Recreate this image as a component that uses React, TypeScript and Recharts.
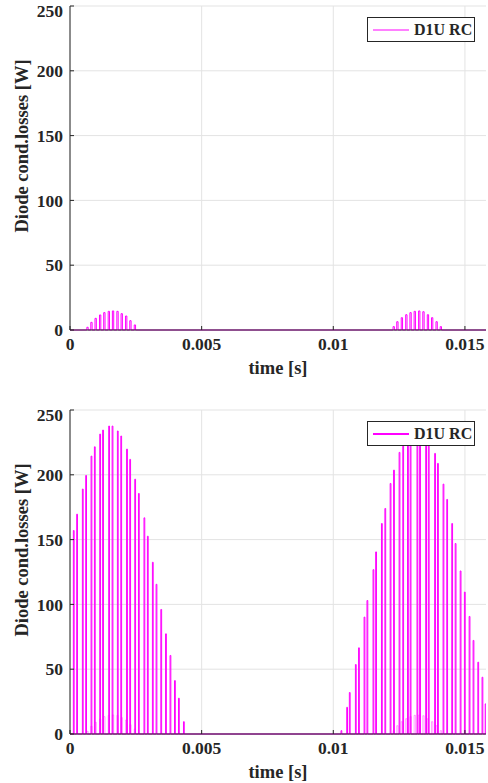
import { LineChart, Line, XAxis, YAxis, CartesianGrid, Legend, Label } from "recharts";

// top plot: conduction loss pulses (W) at PWM instants (s)
const smallTimes = [
  0.00064, 0.00079, 0.00095, 0.00112, 0.00128, 0.00145, 0.00161, 0.00178, 0.00194, 0.00211, 0.00227, 0.00244,
  0.01227, 0.01241, 0.01258, 0.01275, 0.01291, 0.01307, 0.01324, 0.0134, 0.01357, 0.01373, 0.0139, 0.01406,
];
const smallValues = [
  2.1, 5.9, 9.0, 11.6, 13.4, 14.4, 14.7, 14.4, 12.6, 10.8, 7.2, 3.9,
  2.6, 6.4, 9.5, 11.8, 13.4, 14.4, 14.7, 14.1, 11.8, 9.5, 6.4, 2.6,
];

// bottom plot
const bigTimes = [
  0.000127, 0.000254, 0.00047, 0.000597, 0.0008, 0.000927, 0.00113, 0.00124, 0.00147, 0.0016, 0.0018, 0.00193,
  0.00215, 0.00227, 0.00246, 0.0026, 0.00281, 0.00294, 0.00313, 0.00327, 0.00345, 0.00363, 0.0038, 0.00397,
  0.00412, 0.00431,
  0.010293, 0.01051, 0.01061, 0.01084, 0.01096, 0.01117, 0.01128, 0.01151, 0.01161, 0.01183, 0.01196, 0.01216,
  0.01229, 0.0125, 0.01264, 0.01282, 0.01292, 0.01318, 0.01328, 0.01351, 0.01361, 0.01385, 0.01396, 0.01417,
  0.01431, 0.0145, 0.01463, 0.01482, 0.01498, 0.01516, 0.01531, 0.01549, 0.01565, 0.01577,
];
const bigValues = [
  157, 169.6, 189, 199.5, 214.4, 221.6, 231.4, 234.5, 237.6, 237.6, 233.8, 229.9,
  219.8, 211.9, 196.6, 185.6, 166.8, 152.6, 132.5, 115.5, 96.1, 77.3, 60.6, 41.2,
  27.6, 9.5,
  2.6, 20.6, 32, 53.6, 66.5, 90.2, 103, 126.8, 140.5, 162.4, 174, 193.3,
  203.6, 217.3, 224, 231, 234, 237, 237, 233, 228, 216.5, 208.8, 192.8,
  181, 162.4, 147, 125.8, 109.5, 90.7, 72.2, 55.4, 43.8, 23.2,
];

const xTicks = [0, 0.005, 0.01, 0.015];
const yTicks = [0, 50, 100, 150, 200, 250];
const X_MAX = 0.0158;

const font = "'Liberation Serif', 'Times New Roman', serif";
const ink = "#262626";

// turn pulse list into a rectangular trace
const pulseTrace = (times: number[], values: number[], w: number) => {
  const pts: { t: number; p: number }[] = [{ t: 0, p: 0 }];
  times.forEach((t, i) => {
    pts.push({ t, p: 0 }, { t, p: values[i] }, { t: t + w, p: values[i] }, { t: t + w, p: 0 });
  });
  pts.push({ t: X_MAX, p: 0 });
  return pts;
};

const smallData = pulseTrace(smallTimes, smallValues, 0.00005);
const bigData = pulseTrace(bigTimes, bigValues, 0.00003);

const fmtX = (v: number) => (v === 0 ? "0" : String(v));

const LegendBox = ({ lineColor }: { lineColor: string }) => (
  <div
    style={{
      width: 108,
      height: 25,
      border: "1px solid " + ink,
      background: "white",
      display: "flex",
      alignItems: "center",
      boxSizing: "border-box",
      fontFamily: font,
      fontWeight: "bold",
      fontSize: 16,
      color: ink,
    }}
  >
    <div style={{ width: 36, height: 2, background: lineColor, marginLeft: 5, marginRight: 5 }} />
    <span>D1U RC</span>
  </div>
);

const YLabel = (props: any) => {
  const vb = props.viewBox || {};
  const cy = vb.y + vb.height / 2 - 22;
  return (
    <text
      x={22}
      y={cy}
      transform={`rotate(-90 22 ${cy})`}
      textAnchor="middle"
      dominantBaseline="central"
      fontFamily={font}
      fontWeight="bold"
      fontSize={18.5}
      fill={ink}
    >
      Diode cond.losses [W]
    </text>
  );
};

const tickStyle = { fontFamily: font, fontWeight: "bold" as const, fontSize: 17.5, fill: ink };

const Panel = ({ data, faint, legendLine }: { data: any[]; faint?: any[]; legendLine: string }) => (
  <LineChart width={488} height={379} margin={{ top: 6, right: 2, left: 0, bottom: 0 }}>
    <CartesianGrid stroke="#e3e3e3" horizontalValues={yTicks} verticalValues={xTicks} />
    <XAxis
      dataKey="t"
      type="number"
      domain={[0, X_MAX]}
      allowDataOverflow
      ticks={xTicks}
      tickFormatter={fmtX}
      tickSize={-4}
      tickMargin={12}
      height={49}
      stroke={ink}
      tick={tickStyle}
    >
      <Label
        value="time [s]"
        position="insideBottom"
        offset={5}
        style={{ fontFamily: font, fontWeight: "bold", fontSize: 18.5, fill: ink }}
      />
    </XAxis>
    <XAxis
      xAxisId="top"
      orientation="top"
      dataKey="t"
      type="number"
      domain={[0, X_MAX]}
      allowDataOverflow
      ticks={xTicks}
      tickFormatter={() => ""}
      tickSize={-4}
      height={0}
      stroke={ink}
    />
    <YAxis
      type="number"
      domain={[0, 250]}
      ticks={yTicks}
      tickSize={-4}
      tickMargin={11}
      width={70}
      stroke={ink}
      tick={tickStyle}
      label={<YLabel />}
    />
    <YAxis
      yAxisId="right"
      orientation="right"
      type="number"
      domain={[0, 250]}
      ticks={yTicks}
      tickFormatter={() => ""}
      tickSize={-4}
      width={0}
      stroke={ink}
    />
    {faint && (
      <Line
        data={faint}
        dataKey="p"
        type="linear"
        stroke="#ff00ff"
        strokeOpacity={0.35}
        strokeWidth={1}
        dot={false}
        isAnimationActive={false}
        legendType="none"
      />
    )}
    <Line
      data={data}
      dataKey="p"
      name="D1U RC"
      type="linear"
      stroke="#ff00ff"
      strokeWidth={1}
      dot={false}
      isAnimationActive={false}
    />
    <Legend
      layout="horizontal"
      verticalAlign="middle"
      align="center"
      content={() => <LegendBox lineColor={legendLine} />}
      wrapperStyle={{ top: 17, left: 367, width: 108 }}
    />
  </LineChart>
);

export default function App() {
  return (
    <div style={{ position: "absolute", top: 0, left: 0, width: 488, height: 783, overflow: "hidden", background: "white" }}>
      <div style={{ position: "absolute", top: 0, left: 0 }}>
        <Panel data={smallData} legendLine="#ff80ff" />
      </div>
      <div style={{ position: "absolute", top: 404, left: 0 }}>
        <Panel data={bigData} faint={smallData} legendLine="#ff00ff" />
      </div>
    </div>
  );
}
